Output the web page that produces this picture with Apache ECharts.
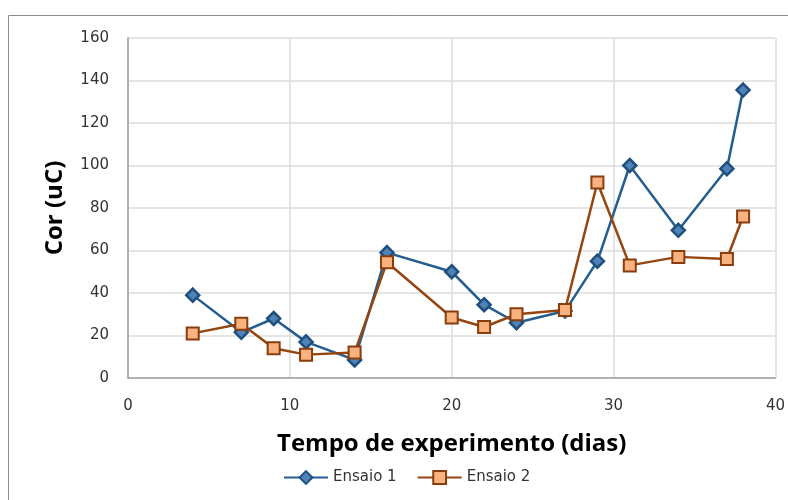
<!DOCTYPE html>
<html>
<head>
<meta charset="utf-8">
<script src="https://cdn.jsdelivr.net/npm/echarts@6/dist/echarts.min.js"></script>
<style>
  html, body { margin: 0; padding: 0; background: #fff; }
  #chart { width: 788px; height: 500px; }
</style>
</head>
<body>
<div id="chart"></div>
<script>
// dados
var dias = [4, 7, 9, 11, 14, 16, 20, 22, 24, 27, 29, 31, 34, 37, 38];
var ensaio1 = [39, 21.5, 28, 17, 8.5, 59, 50, 34.5, 26, 31.5, 55, 100, 69.5, 98.5, 135.5];
var ensaio2 = [21, 25.5, 14, 11, 12, 54.5, 28.5, 24, 30, 32, 92, 53, 57, 56, 76];
var yTicks = [0, 20, 40, 60, 80, 100, 120, 140, 160];
var xTicks = [0, 10, 20, 30, 40];

function pares(xs, ys) {
  var out = [];
  for (var i = 0; i < xs.length; i++) out.push([xs[i], ys[i]]);
  return out;
}

var myChart = echarts.init(document.getElementById('chart'));
var option = {
  animation: false,
  graphic: [
    {
      type: 'rect',
      shape: { x: 8.5, y: 15.5, width: 800, height: 520 },
      style: { fill: 'none', stroke: '#8c8c8c', lineWidth: 1 },
      silent: true
    }
  ],
  grid: { left: 128, right: 9, top: 38, bottom: 122 },
  legend: {
    top: 465,
    left: 278,
    itemWidth: 44,
    itemHeight: 16,
    itemGap: 20,
    textStyle: { fontFamily: 'DejaVu Sans', fontSize: 15, color: '#333' },
    data: ['Ensaio 1', 'Ensaio 2']
  },
  xAxis: {
    type: 'value',
    min: xTicks[0],
    max: xTicks[xTicks.length - 1],
    interval: 10,
    name: 'Tempo de experimento (dias)',
    nameLocation: 'middle',
    nameGap: 54,
    nameTextStyle: { fontFamily: 'Open Sans', fontWeight: 'bold', fontSize: 24, color: '#000' },
    axisLine: { show: true, lineStyle: { color: '#a0a0a0', width: 1.5 } },
    axisTick: { show: false },
    axisLabel: { fontFamily: 'DejaVu Sans', fontSize: 15, color: '#333', margin: 21 },
    splitLine: { show: true, lineStyle: { color: '#dcdcdc', width: 1.5 } }
  },
  yAxis: {
    type: 'value',
    min: yTicks[0],
    max: yTicks[yTicks.length - 1],
    interval: 20,
    name: 'Cor (uC)',
    nameLocation: 'middle',
    nameGap: 61,
    nameTextStyle: { fontFamily: 'Open Sans', fontWeight: 'bold', fontSize: 24, color: '#000' },
    axisLine: { show: true, lineStyle: { color: '#a0a0a0', width: 1.5 } },
    axisTick: { show: false },
    axisLabel: { fontFamily: 'DejaVu Sans', fontSize: 15, color: '#333', margin: 19 },
    splitLine: { show: true, lineStyle: { color: '#dcdcdc', width: 1.5 } }
  },
  series: [
    {
      name: 'Ensaio 1',
      type: 'line',
      data: pares(dias, ensaio1),
      symbol: 'diamond',
      symbolSize: 13,
      lineStyle: { color: '#245d8f', width: 2.5 },
      itemStyle: { color: '#4f83b8', borderColor: '#1f4f7d', borderWidth: 2.5 },
      z: 2
    },
    {
      name: 'Ensaio 2',
      type: 'line',
      data: pares(dias, ensaio2),
      symbol: 'rect',
      symbolSize: 12,
      lineStyle: { color: '#95450f', width: 2.5 },
      itemStyle: { color: '#f7b27f', borderColor: '#8a3d0c', borderWidth: 2 },
      z: 3
    }
  ]
};
myChart.setOption(option);
</script>
</body>
</html>
